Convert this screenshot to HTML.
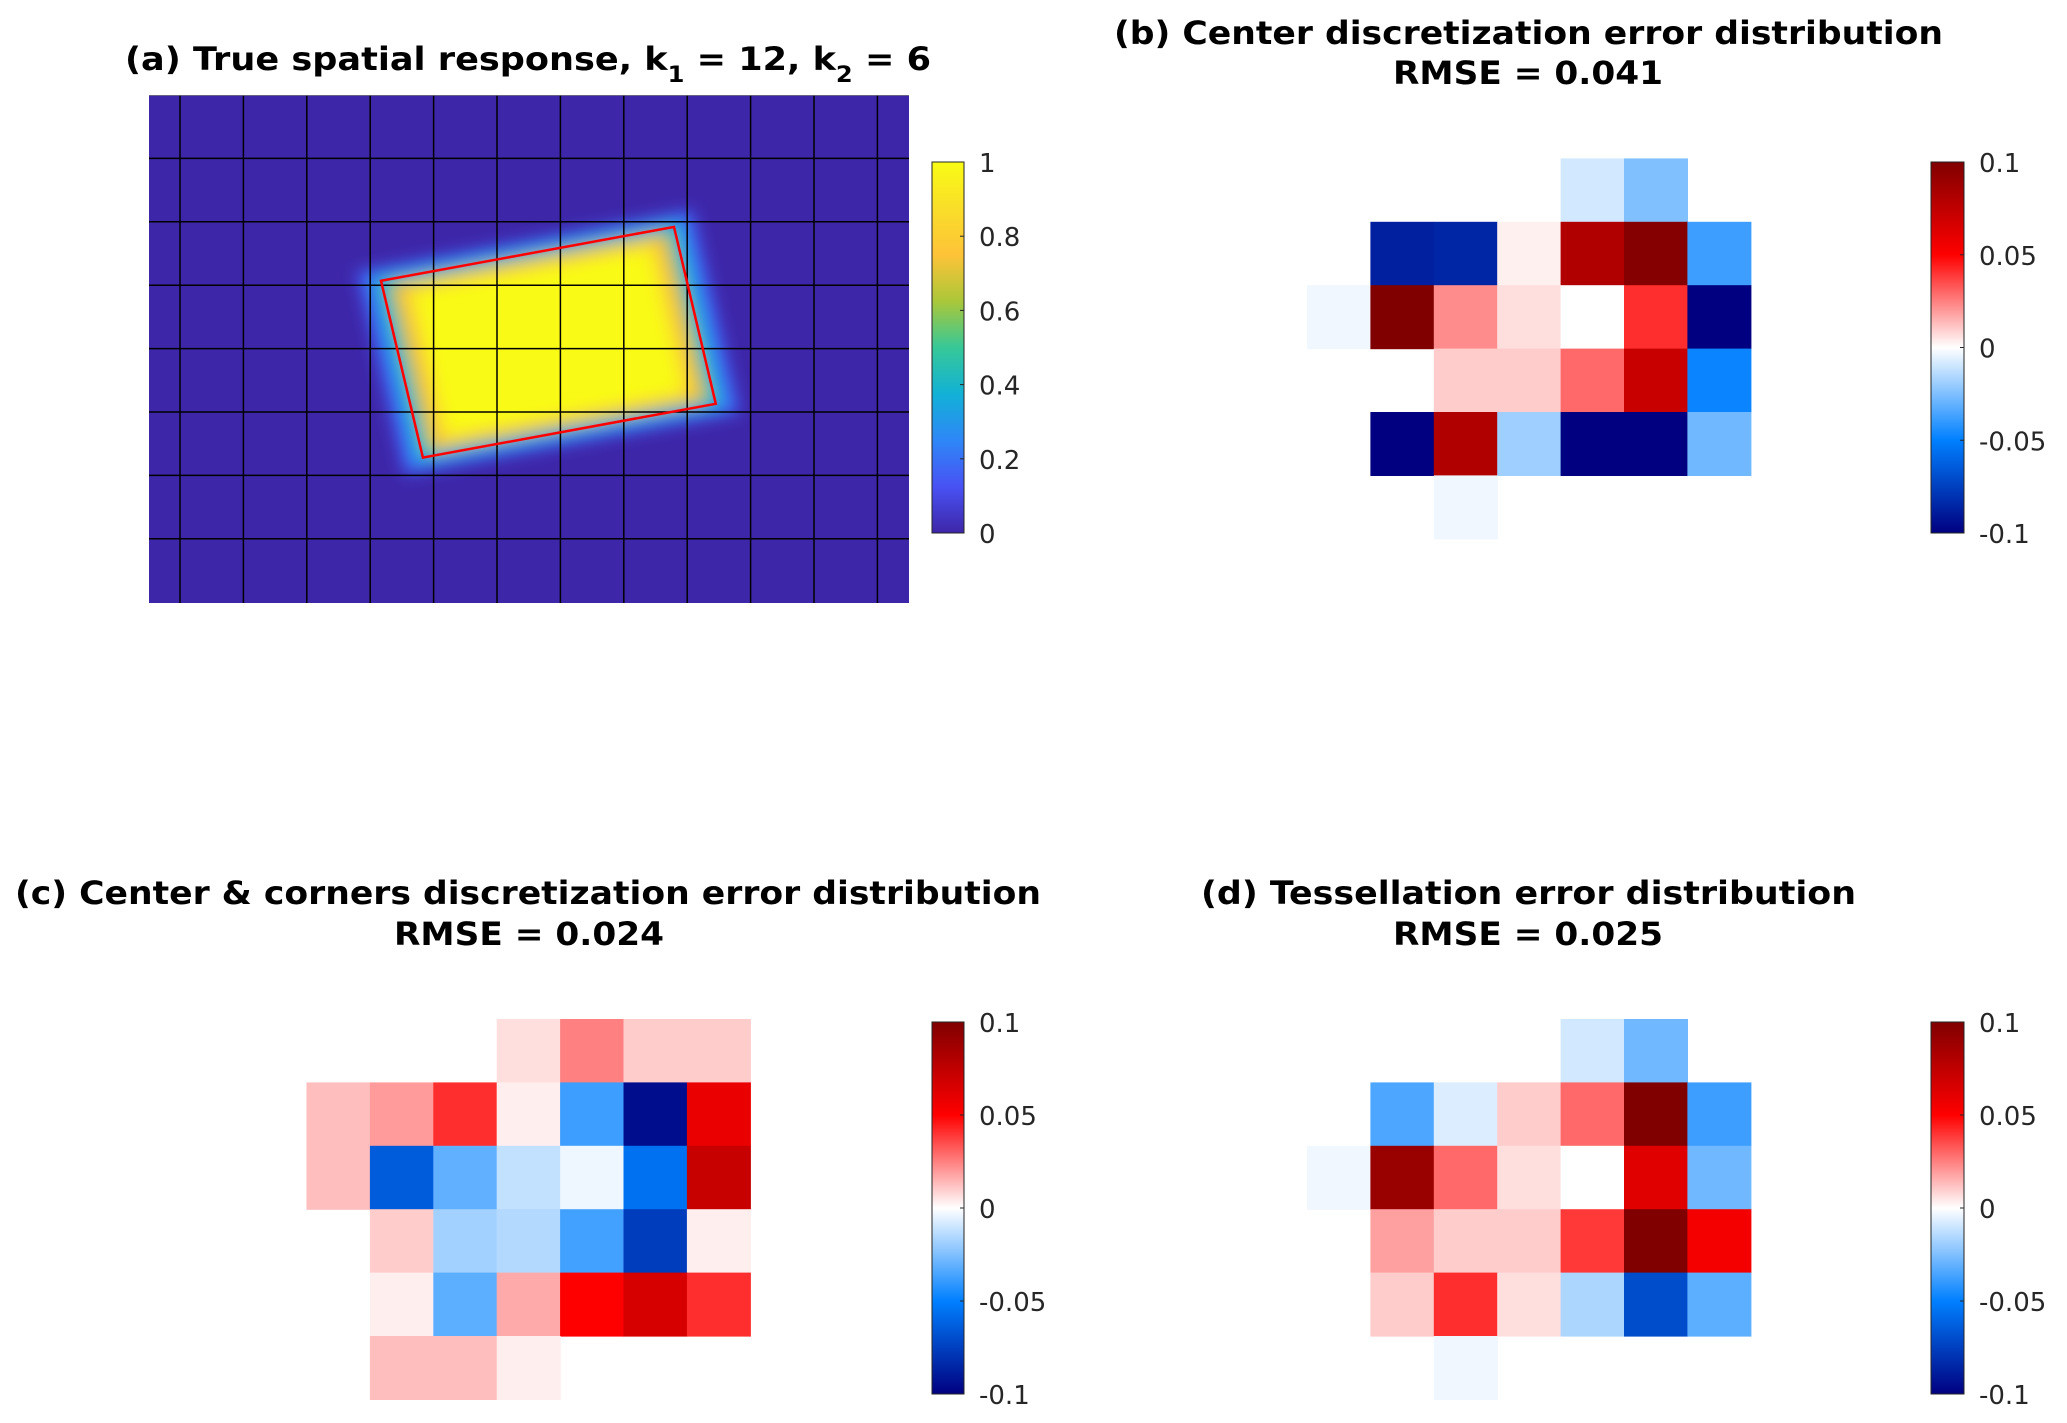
<!DOCTYPE html>
<html><head><meta charset="utf-8">
<style>
html,body{margin:0;padding:0;background:#fff;}
svg{display:block;font-family:"DejaVu Sans","Liberation Sans",sans-serif;}
.ttl{font-weight:bold;font-size:32px;fill:#000;}
.tk{font-size:26px;fill:#262626;}
</style></head>
<body>
<svg id="fig" width="2067" height="1423" viewBox="0 0 2067 1423" xmlns="http://www.w3.org/2000/svg">
<defs>
  <linearGradient id="parula" x1="0" y1="1" x2="0" y2="0">
    <stop offset="0" stop-color="rgb(62,38,168)"/>
    <stop offset="0.125" stop-color="rgb(72,82,244)"/>
    <stop offset="0.25" stop-color="rgb(46,135,247)"/>
    <stop offset="0.375" stop-color="rgb(18,177,214)"/>
    <stop offset="0.5" stop-color="rgb(55,200,151)"/>
    <stop offset="0.625" stop-color="rgb(171,199,57)"/>
    <stop offset="0.75" stop-color="rgb(254,195,56)"/>
    <stop offset="0.875" stop-color="rgb(249,222,41)"/>
    <stop offset="1" stop-color="rgb(249,251,21)"/>
  </linearGradient>
  <linearGradient id="bwr" x1="0" y1="1" x2="0" y2="0">
    <stop offset="0" stop-color="rgb(0,0,128)"/>
    <stop offset="0.25" stop-color="rgb(0,128,255)"/>
    <stop offset="0.5" stop-color="rgb(255,255,255)"/>
    <stop offset="0.75" stop-color="rgb(255,0,0)"/>
    <stop offset="1" stop-color="rgb(128,0,0)"/>
  </linearGradient>
  <filter id="blur" x="-20%" y="-20%" width="140%" height="140%"><feGaussianBlur stdDeviation="8"/></filter>
  <clipPath id="clipA"><rect x="149" y="95" width="760" height="508"/></clipPath>
</defs>

<text class="ttl" x="125" y="70" textLength="806" lengthAdjust="spacingAndGlyphs">(a) True spatial response, k<tspan font-size="22" dy="12">1</tspan><tspan dy="-12"> = 12, k</tspan><tspan font-size="22" dy="12">2</tspan><tspan dy="-12"> = 6</tspan></text>
<text class="ttl" x="1114" y="44" textLength="829" lengthAdjust="spacingAndGlyphs">(b) Center discretization error distribution</text>
<text class="ttl" x="1393" y="84" textLength="270" lengthAdjust="spacingAndGlyphs">RMSE = 0.041</text>
<text class="ttl" x="15" y="904" textLength="1026" lengthAdjust="spacingAndGlyphs">(c) Center &amp; corners discretization error distribution</text>
<text class="ttl" x="394" y="945" textLength="270" lengthAdjust="spacingAndGlyphs">RMSE = 0.024</text>
<text class="ttl" x="1201" y="904" textLength="655" lengthAdjust="spacingAndGlyphs">(d) Tessellation error distribution</text>
<text class="ttl" x="1393" y="945" textLength="270" lengthAdjust="spacingAndGlyphs">RMSE = 0.025</text>

<g id="panelA"></g>
<g id="panelB"></g>
<g id="panelC"></g>
<g id="panelD"></g>
<g id="bars"></g>
</svg>
<script>
// ---- data ----
const parulaTicks = [0, 0.2, 0.4, 0.6, 0.8, 1];
const parulaTickLabels = ["0", "0.2", "0.4", "0.6", "0.8", "1"];
const errTicks = [-0.1, -0.05, 0, 0.05, 0.1];
const errTickLabels = ["-0.1", "-0.05", "0", "0.05", "0.1"];
const gridCols = 12;
const gridRows = 8;
// rotated footprint corners in axis units (col, row from top-left of axes)
const footprintCol = [3.66, 8.28, 8.94, 4.32];
const footprintRow = [2.93, 2.08, 4.87, 5.72];
const errB = [
  [null, null, null, null, -0.009, -0.025, null],
  [null, -0.0875, -0.085, 0.003, 0.081, 0.098, -0.038],
  [-0.003, 0.1, 0.0225, 0.0065, 0, 0.041, -0.1],
  [null, null, 0.01, 0.01, 0.0295, 0.0717, -0.048],
  [null, -0.1, 0.081, -0.019, -0.1, -0.1, -0.028],
  [null, null, -0.003, null, null, null, null]
];
const errC = [
  [null, null, null, 0.0065, 0.025, 0.01, 0.01],
  [0.0127, 0.0196, 0.041, 0.0033, -0.038, -0.095, 0.058],
  [0.0127, -0.064, -0.031, -0.012, -0.0033, -0.056, 0.072],
  [null, 0.01, -0.018, -0.015, -0.037, -0.076, 0.0033],
  [null, 0.0033, -0.032, 0.0167, 0.05, 0.066, 0.041],
  [null, 0.0127, 0.0127, 0.0033, null, null, null]
];
const errD = [
  [null, null, null, null, -0.009, -0.028, null],
  [null, -0.035, -0.007, 0.01, 0.0295, 0.1, -0.038],
  [-0.003, 0.09, 0.0295, 0.0065, 0, 0.062, -0.028],
  [null, 0.0186, 0.01, 0.01, 0.039, 0.1, 0.054],
  [null, 0.01, 0.041, 0.0065, -0.016, -0.07, -0.032],
  [null, null, -0.003, null, null, null, null]
];

const NS = "http://www.w3.org/2000/svg";
function mk(tag, attrs, parent) {
  const e = document.createElementNS(NS, tag);
  for (const k in attrs) e.setAttribute(k, attrs[k]);
  parent.appendChild(e);
  return e;
}
const CELL = 63.4;
function errColor(v) {
  const stops = [[-0.1,[0,0,128]],[-0.05,[0,128,255]],[0,[255,255,255]],[0.05,[255,0,0]],[0.1,[128,0,0]]];
  v = Math.max(-0.1, Math.min(0.1, v));
  for (let i = 0; i < stops.length - 1; i++) {
    const [a, ca] = stops[i], [b, cb] = stops[i+1];
    if (v >= a && v <= b) {
      const t = (v - a) / (b - a);
      return "rgb(" + ca.map((c, j) => Math.round(c + (cb[j] - c) * t)).join(",") + ")";
    }
  }
  return "#fff";
}

// ---- panel A ----
(function(){
  const g = document.getElementById("panelA");
  const x0 = 149, y0 = 95, W = 760, H = 508;
  const cg = mk("g", {"clip-path": "url(#clipA)"}, g);
  const bg = mk("rect", {x: x0, y: y0, width: W, height: H, fill: "rgb(62,38,168)"}, cg);
  
  
  const pxs = footprintCol.map(c => x0 + c * CELL);
  const pys = footprintRow.map(r => y0 + r * CELL);
  const cx = pxs.reduce((a,b)=>a+b)/4, cy = pys.reduce((a,b)=>a+b)/4;
  const blob = mk("g", {filter: "url(#blur)"}, cg);
  
  
  const layers = [[1.15,"rgb(65,90,245)"],[1.08,"rgb(40,150,240)"],[1.02,"rgb(30,180,200)"],[0.98,"rgb(90,200,130)"],[0.93,"rgb(250,180,60)"],[0.86,"rgb(249,230,35)"],[0.78,"rgb(249,251,21)"]];
  layers.forEach(([s, col]) => {
    const pts = pxs.map((x, i) => (cx + (x - cx) * s).toFixed(1) + "," + (cy + (pys[i] - cy) * s).toFixed(1)).join(" ");
    mk("polygon", {points: pts, fill: col}, blob);
  });
  for (let c = 0; c <= gridCols; c++) {
    const x = x0 + 31 + c * CELL;
    if (x < x0 || x > x0 + W) continue;
    const l = mk("line", {x1: x, y1: y0, x2: x, y2: y0 + H, stroke: "#000", "stroke-width": 1.5}, cg);
    
    
  }
  for (let r = 1; r < gridRows; r++) {
    const y = y0 + r * CELL;
    const l = mk("line", {x1: x0, y1: y, x2: x0 + W, y2: y, stroke: "#000", "stroke-width": 1.5}, cg);
    
    
  }
  mk("line", {x1: x0, y1: y0, x2: x0 + W, y2: y0, stroke: "#777", "stroke-width": 1.5}, cg);
  const quad = mk("polygon", {points: pxs.map((x,i)=>x.toFixed(1)+","+pys[i].toFixed(1)).join(" "), fill: "none", stroke: "#f00", "stroke-width": 2.5}, g);
  
  
})();

// ---- heatmaps ----
function heat(id, data, x0, y0) {
  const g = document.getElementById(id);
  data.forEach((row, r) => row.forEach((v, c) => {
    if (v === null) return;
    const rc = mk("rect", {x: (x0 + c * CELL).toFixed(1), y: (y0 + r * CELL).toFixed(1), width: CELL + 0.6, height: CELL + 0.6, fill: errColor(v)}, g);
    
    
  }));
}
heat("panelB", errB, 1307, 158.4);
heat("panelC", errC, 306.5, 1019);
heat("panelD", errD, 1307, 1019);

// ---- colorbars ----
function colorbar(x, y, w, h, grad, ticks, labels, lo, hi, name) {
  const g = document.getElementById("bars");
  const r = mk("rect", {x, y, width: w, height: h, fill: "url(#" + grad + ")", stroke: "#262626", "stroke-width": 1}, g);
  
  
  ticks.forEach((t, i) => {
    const ty = y + h - (t - lo) / (hi - lo) * h;
    mk("line", {x1: x + w - 4, y1: ty, x2: x + w, y2: ty, stroke: "#262626", "stroke-width": 1}, g);
    const tx = mk("text", {x: x + w + 15, y: ty + 10, class: "tk"}, g);
    tx.textContent = labels[i];
    
    
  });
}
colorbar(932, 162, 32, 371, "parula", parulaTicks, parulaTickLabels, 0, 1, "colorbar-a");
colorbar(1931, 162, 33, 371, "bwr", errTicks, errTickLabels, -0.1, 0.1, "colorbar-b");
colorbar(932, 1022, 32, 372, "bwr", errTicks, errTickLabels, -0.1, 0.1, "colorbar-c");
colorbar(1931, 1022, 33, 372, "bwr", errTicks, errTickLabels, -0.1, 0.1, "colorbar-d");
</script>
</body></html>
